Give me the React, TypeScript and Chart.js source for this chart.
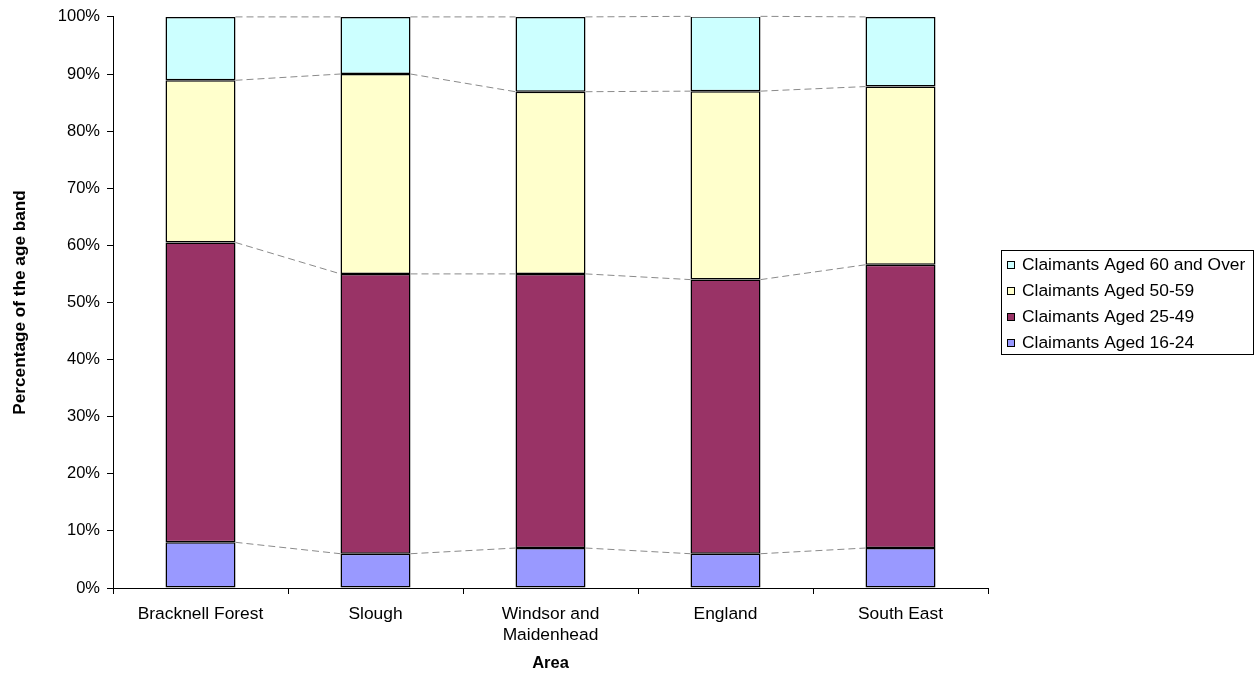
import React, { useEffect, useRef } from 'react';
import { Chart, registerables } from 'chart.js';

Chart.register(...registerables);

const categories: (string | string[])[] = ['Bracknell Forest', 'Slough', ['Windsor and', 'Maidenhead'], 'England', 'South East'];
const seriesLabels = ['Claimants Aged 16-24', 'Claimants Aged 25-49', 'Claimants Aged 50-59', 'Claimants Aged 60 and Over'];
const aged16to24 = [8, 6, 7, 6, 7];
const aged25to49 = [52.5, 49, 48, 48, 49.6];
const aged50to59 = [28.4, 35, 31.9, 33, 31.2];
const aged60plus = [11.1, 10, 13.1, 13.1, 12.2];
const seriesColors = ['#9999FF', '#993366', '#FFFFCC', '#CCFFFF'];
const yTickValues = [0, 10, 20, 30, 40, 50, 60, 70, 80, 90, 100];

const FONT = '"Liberation Sans", Arial, sans-serif';
const FS_Y = 16.5;
const FS = 17.4;

const seriesLinesPlugin = {
  id: 'seriesLines',
  afterDatasetsDraw(chart: any) {
    const ctx = chart.ctx;
    ctx.save();
    ctx.strokeStyle = '#8a8a8a';
    ctx.lineWidth = 1;
    ctx.setLineDash([7, 4]);
    chart.data.datasets.forEach((_: any, i: number) => {
      const meta = chart.getDatasetMeta(i);
      for (let j = 0; j < meta.data.length - 1; j++) {
        const a = meta.data[j];
        const b = meta.data[j + 1];
        ctx.beginPath();
        ctx.moveTo(a.x + a.width / 2, a.y);
        ctx.lineTo(b.x - b.width / 2, b.y);
        ctx.stroke();
      }
    });
    ctx.restore();
  },
};

const boxLegendPlugin = {
  id: 'boxLegend',
  afterDraw(chart: any) {
    const ctx = chart.ctx;
    const ds = chart.data.datasets;
    const left = 1001;
    const top = 250;
    const w = 252;
    const h = 104;
    ctx.save();
    ctx.strokeStyle = '#000';
    ctx.lineWidth = 1;
    ctx.strokeRect(left + 0.5, top + 0.5, w, h);
    ctx.font = `${FS}px ${FONT}`;
    ctx.textBaseline = 'middle';
    ctx.textAlign = 'left';
    let row = 0;
    for (let k = ds.length - 1; k >= 0; k--) {
      const y = top + 15 + row * 26;
      ctx.fillStyle = ds[k].backgroundColor;
      ctx.fillRect(left + 6.5, Math.round(y - 4) + 0.5, 7, 7);
      ctx.strokeStyle = '#000';
      ctx.strokeRect(left + 6.5, Math.round(y - 4) + 0.5, 7, 7);
      ctx.fillStyle = '#000';
      ctx.fillText(ds[k].label, left + 21, y);
      row++;
    }
    ctx.restore();
  },
};

export default function App() {
  const ref = useRef<HTMLCanvasElement>(null);

  useEffect(() => {
    document.body.style.margin = '0';
    if (!ref.current) return;
    const seriesValues = [aged16to24, aged25to49, aged50to59, aged60plus];
    const chart = new Chart(ref.current, {
      type: 'bar',
      data: {
        labels: categories as any,
        datasets: seriesValues.map((vals, i) => ({
          label: seriesLabels[i],
          data: vals,
          backgroundColor: seriesColors[i],
          borderColor: '#000',
          borderWidth: 1.5,
          borderSkipped: false,
          barPercentage: 0.4,
          categoryPercentage: 1,
        })),
      },
      options: {
        responsive: false,
        animation: false,
        layout: { padding: { top: 16, right: 269, bottom: 0, left: 0 } },
        plugins: {
          legend: { display: false },
          tooltip: { enabled: false },
          title: { display: false },
        },
        scales: {
          x: {
            stacked: true,
            offset: true,
            grid: { offset: true, drawOnChartArea: false, drawTicks: true, tickLength: 6, color: '#000' },
            border: { color: '#000', width: 1 },
            ticks: { color: '#000', font: { family: FONT, size: FS, lineHeight: 1.2 }, padding: 10, maxRotation: 0, autoSkip: false },
            title: { display: true, text: 'Area', color: '#000', font: { family: FONT, size: FS_Y, weight: 'bold' }, padding: { top: 0, bottom: 2 } },
            afterFit: (s: any) => { s.height = 87; },
          },
          y: {
            stacked: true,
            min: 0,
            max: 100,
            afterBuildTicks: (s: any) => { s.ticks = yTickValues.map((v) => ({ value: v })); },
            grid: { drawOnChartArea: false, drawTicks: true, tickLength: 6, color: '#000' },
            border: { color: '#000', width: 1 },
            ticks: { color: '#000', font: { family: FONT, size: FS_Y }, padding: 7, callback: (v: any) => `${v}%` },
            title: { display: true, text: 'Percentage of the age band', color: '#000', font: { family: FONT, size: 17.2, weight: 'bold' }, padding: { top: 10, bottom: 0 } },
            afterFit: (s: any) => { s.width = 113; },
          },
        },
      },
      plugins: [seriesLinesPlugin, boxLegendPlugin],
    });
    return () => chart.destroy();
  }, []);

  return (
    <div style={{ width: 1257, height: 675, background: '#fff' }}>
      <canvas ref={ref} width={1257} height={675} style={{ display: 'block' }} />
    </div>
  );
}
